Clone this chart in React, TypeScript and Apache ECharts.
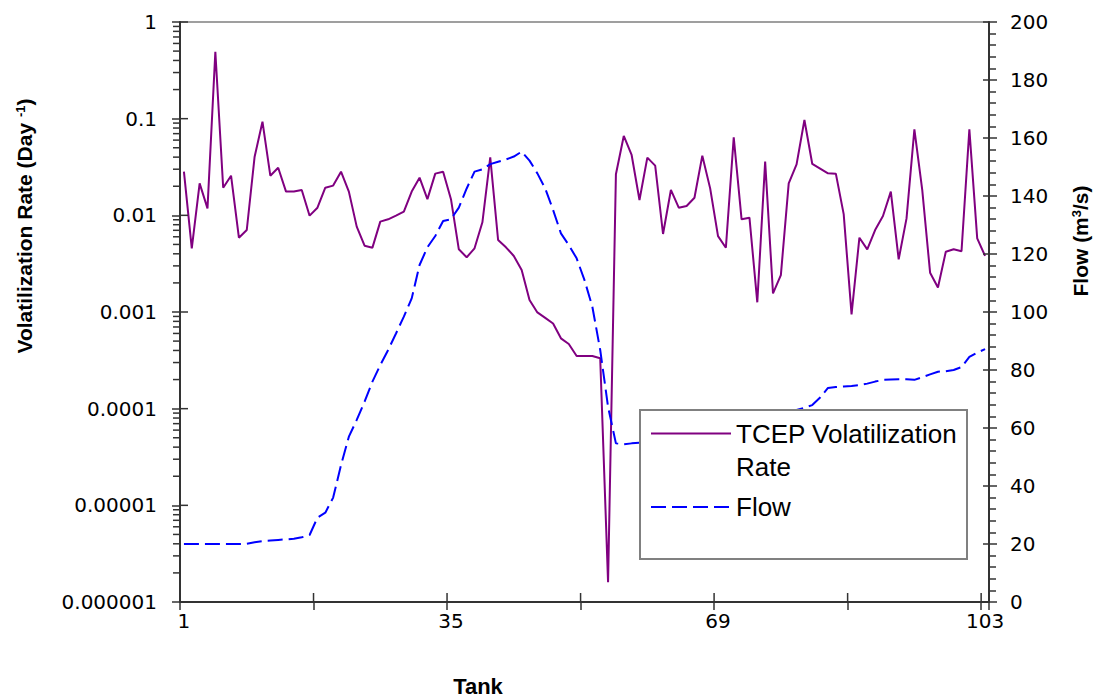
import React, { useEffect, useRef } from "react";
import * as echarts from "echarts";

// Tank categories 1..103
const tanks: string[] = Array.from({ length: 103 }, (_, i) => String(i + 1));

// TCEP volatilization rate (day^-1), per tank
const tcepRate: number[] = [
  0.0283, 0.00456, 0.0214, 0.0118, 0.493, 0.0193, 0.0257, 0.00587, 0.00705, 0.0404,
  0.093, 0.0257, 0.0311, 0.0176, 0.0176, 0.0183, 0.00992, 0.012, 0.0193, 0.0203,
  0.0283, 0.0176, 0.00764, 0.00485, 0.00463, 0.00861, 0.0091, 0.00992, 0.0109, 0.0176,
  0.0245, 0.0147, 0.027, 0.0283, 0.0147, 0.00445, 0.00368, 0.00456, 0.00848, 0.0398,
  0.00556, 0.00467, 0.0038, 0.00272, 0.00133, 0.00099, 0.00087, 0.00076, 0.000534, 0.000467,
  0.000351, 0.000351, 0.00035, 0.000332, 0.0000016, 0.0266, 0.0662, 0.0421, 0.0144, 0.0395,
  0.0327, 0.00641, 0.0183, 0.012, 0.0125, 0.0152, 0.0414, 0.019, 0.0061, 0.00462,
  0.0641, 0.0091, 0.00946, 0.00126, 0.0359, 0.00156, 0.00241, 0.0214, 0.0337, 0.0969,
  0.034, 0.0304, 0.0272, 0.027, 0.0103, 0.000946, 0.00587, 0.00445, 0.00705, 0.00984,
  0.0176, 0.0035, 0.0093, 0.0776, 0.0183, 0.00255, 0.00179, 0.0042, 0.00445, 0.00425,
  0.0776, 0.00578, 0.0038,
];

// Flow (m3/s), per tank
const flow: number[] = [
  20.0, 20.0, 20.0, 20.0, 20.0, 20.0, 20.0, 20.0, 20.1, 20.6,
  21.0, 21.2, 21.4, 21.6, 21.8, 22.3, 23.1, 29.1, 30.8, 36.0,
  47.2, 57.0, 62.8, 69.1, 76.0, 81.7, 86.9, 92.6, 98.4, 104.7,
  116.2, 122.3, 126.2, 131.4, 132.0, 136.0, 142.6, 148.4, 149.2, 151.0,
  151.8, 152.6, 153.6, 155.3, 152.2, 147.8, 142.6, 135.2, 127.1, 123.1,
  118.5, 111.0, 101.8, 86.9, 67.3, 54.7, 54.4, 54.7, 54.9, 55.1,
  55.4, 55.8, 56.2, 56.6, 57.0, 57.4, 57.8, 58.3, 58.8, 59.4,
  60.0, 60.7, 61.5, 62.3, 63.1, 64.0, 64.8, 65.5, 66.2, 67.0,
  67.9, 70.5, 73.8, 74.1, 74.3, 74.5, 74.8, 75.3, 76.0, 76.6,
  76.7, 76.8, 76.8, 76.6, 77.5, 78.5, 79.4, 79.6, 80.0, 81.0,
  84.5, 86.0, 87.2,
];

// Axis tick values
const rateMajorTicks: number[] = [1e-6, 1e-5, 1e-4, 1e-3, 1e-2, 1e-1, 1];
const rateMinorMultipliers: number[] = [2, 3, 4, 5, 6, 7, 8, 9];
const flowTicks: number[] = [0, 20, 40, 60, 80, 100, 120, 140, 160, 180, 200];
const tankTickIndices: number[] = [0, 17, 34, 51, 68, 85, 102];

const rateMinorTicks: number[] = [];
rateMajorTicks.slice(0, -1).forEach((d) => {
  rateMinorMultipliers.forEach((m) => rateMinorTicks.push(Number((d * m).toPrecision(3))));
});

const SANS = "Liberation Sans, Arial, sans-serif";
const LABEL_FONT = "DejaVu Sans, Liberation Sans, sans-serif";
const AXIS_COLOR = "#333";

const formatRate = (v: number) => {
  const e = Math.round(Math.log10(v));
  return e >= 0 ? String(Math.round(v)) : v.toFixed(-e);
};

export default function App() {
  const ref = useRef<HTMLDivElement>(null);

  useEffect(() => {
    if (!ref.current) return;
    const chart = echarts.init(ref.current, undefined, { renderer: "svg" });

    const tickLine = (x1: number, y1: number, x2: number, y2: number) => ({
      type: "line",
      shape: { x1, y1, x2, y2 },
      style: { stroke: AXIS_COLOR, lineWidth: 1.5 },
    });

    const option: any = {
      animation: false,
      backgroundColor: "#ffffff",
      grid: {
        left: 180,
        right: 110,
        top: 22,
        bottom: 96,
        show: true,
        borderColor: "#808080",
        borderWidth: 1.5,
        containLabel: false,
      },
      xAxis: {
        type: "category",
        data: tanks,
        boundaryGap: true,
        axisLine: { lineStyle: { color: AXIS_COLOR, width: 2 } },
        axisTick: { show: true, interval: 16, length: 8, lineStyle: { color: AXIS_COLOR, width: 1.5 } },
        axisLabel: {
          interval: 33,
          margin: 9,
          fontFamily: LABEL_FONT,
          fontSize: 20,
          color: "#000",
        },
        splitLine: { show: false },
      },
      yAxis: [
        {
          type: "log",
          logBase: 10,
          min: 1e-6,
          max: 1,
          position: "left",
          axisLine: { show: true, lineStyle: { color: AXIS_COLOR, width: 2 } },
          axisTick: { show: true, length: 8, lineStyle: { color: AXIS_COLOR, width: 1.5 } },
          axisLabel: {
            formatter: formatRate,
            margin: 23,
            fontFamily: LABEL_FONT,
            fontSize: 20,
            color: "#000",
          },
          splitLine: { show: false },
        },
        {
          type: "value",
          min: 0,
          max: 200,
          interval: 20,
          position: "right",
          axisLine: { show: true, lineStyle: { color: AXIS_COLOR, width: 2 } },
          axisTick: { show: true, length: 8, lineStyle: { color: AXIS_COLOR, width: 1.5 } },
          minorTick: { show: true, splitNumber: 5, length: 7, lineStyle: { color: AXIS_COLOR, width: 1.5 } },
          axisLabel: {
            margin: 21,
            fontFamily: LABEL_FONT,
            fontSize: 20,
            color: "#000",
          },
          splitLine: { show: false },
          minorSplitLine: { show: false },
        },
      ],
      legend: {
        orient: "vertical",
        left: 650,
        top: 384,
        padding: 0,
        itemWidth: 80,
        itemHeight: 14,
        itemGap: 7.4,
        z: 10,
        itemStyle: { opacity: 0 },
        textStyle: { fontFamily: SANS, fontSize: 26, lineHeight: 33, color: "#000" },
        formatter: (name: string) =>
          name === "TCEP Volatilization Rate" ? "\nTCEP Volatilization\nRate" : name,
        data: [{ name: "TCEP Volatilization Rate" }, { name: "Flow" }],
      },
      graphic: [
        {
          type: "rect",
          z: 5,
          shape: { x: 640, y: 410, width: 327, height: 149 },
          style: { fill: "#ffffff", stroke: "#808080", lineWidth: 2 },
        },
        {
          type: "text",
          x: 24,
          y: 226,
          rotation: Math.PI / 2,
          style: {
            text: "Volatilization Rate (Day {sup|-1})",
            fontFamily: SANS,
            fontSize: 21,
            fontWeight: "bold",
            fill: "#000",
            align: "center",
            verticalAlign: "middle",
            rich: {
              sup: { fontFamily: SANS, fontSize: 13, fontWeight: "bold", verticalAlign: "top", fill: "#000" },
            },
          },
        },
        {
          type: "text",
          x: 1080,
          y: 241,
          rotation: Math.PI / 2,
          style: {
            text: "Flow (m{sup|3}/s)",
            fontFamily: SANS,
            fontSize: 21,
            fontWeight: "bold",
            fill: "#000",
            align: "center",
            verticalAlign: "middle",
            rich: {
              sup: { fontFamily: SANS, fontSize: 13, fontWeight: "bold", verticalAlign: "top", fill: "#000" },
            },
          },
        },
        {
          type: "text",
          x: 478,
          y: 686,
          style: {
            text: "Tank",
            fontFamily: SANS,
            fontSize: 22,
            fontWeight: "bold",
            fill: "#000",
            align: "center",
            verticalAlign: "middle",
          },
        },
      ],
      series: [
        {
          name: "TCEP Volatilization Rate",
          type: "line",
          yAxisIndex: 0,
          data: tcepRate,
          symbol: "none",
          showSymbol: false,
          lineStyle: { color: "#800080", width: 2 },
          itemStyle: { color: "#800080" },
          z: 3,
        },
        {
          name: "Flow",
          type: "line",
          yAxisIndex: 1,
          data: flow,
          symbol: "none",
          showSymbol: false,
          lineStyle: { color: "#0000FF", width: 2, type: [15, 6] },
          itemStyle: { color: "#0000FF" },
          z: 3,
        },
        // left log axis: minor ticks (outside)
        {
          type: "custom",
          yAxisIndex: 0,
          silent: true,
          z: 4,
          data: rateMinorTicks.map((v) => [0, v]),
          renderItem: (params: any, api: any) => {
            const y = api.coord([0, api.value(1)])[1];
            const x0 = params.coordSys.x;
            return tickLine(x0 - 7, y, x0, y);
          },
        },
        // left log axis: inner half of major ticks
        {
          type: "custom",
          yAxisIndex: 0,
          silent: true,
          z: 4,
          data: rateMajorTicks.map((v) => [0, v]),
          renderItem: (params: any, api: any) => {
            const y = api.coord([0, api.value(1)])[1];
            const x0 = params.coordSys.x;
            return tickLine(x0, y, x0 + 8, y);
          },
        },
        // right axis: inner half of major ticks
        {
          type: "custom",
          yAxisIndex: 1,
          silent: true,
          z: 4,
          data: flowTicks.map((v) => [0, v]),
          renderItem: (params: any, api: any) => {
            const y = api.coord([0, api.value(1)])[1];
            const x1 = params.coordSys.x + params.coordSys.width;
            return tickLine(x1 - 6, y, x1, y);
          },
        },
        // x axis: inner half of ticks
        {
          type: "custom",
          yAxisIndex: 1,
          silent: true,
          z: 4,
          data: tankTickIndices.map((i) => [i, 0]),
          renderItem: (params: any, api: any) => {
            const cs = params.coordSys;
            const band = cs.width / tanks.length;
            const x = api.coord([api.value(0), 0])[0] - band / 2;
            const yb = cs.y + cs.height;
            return tickLine(x, yb - 9, x, yb);
          },
        },
      ],
    };

    chart.setOption(option);
    return () => chart.dispose();
  }, []);

  return (
    <div
      ref={ref}
      style={{ position: "absolute", left: 0, top: 0, width: 1099, height: 698 }}
    />
  );
}
